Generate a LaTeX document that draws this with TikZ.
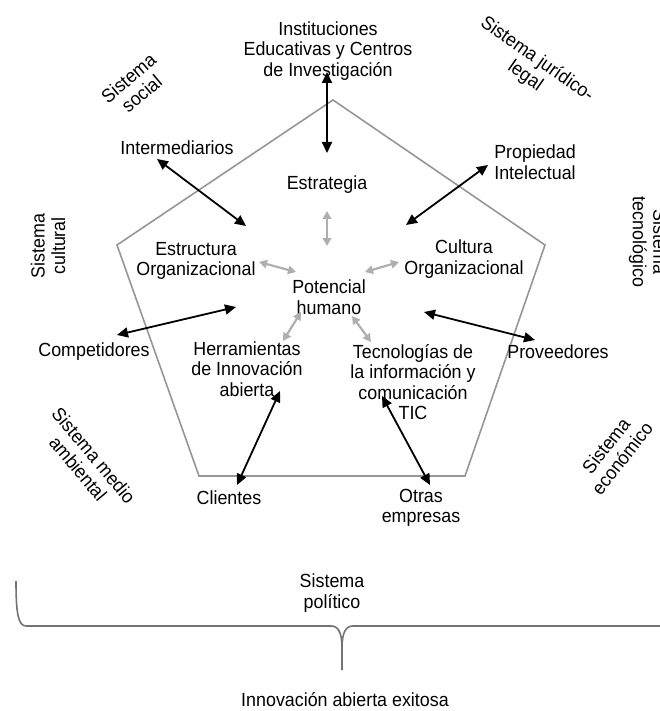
\documentclass[tikz,border=0pt]{standalone}
\usepackage{fontspec}
\setmainfont[FakeStretch=0.94]{Liberation Sans}
\usetikzlibrary{arrows.meta}
\definecolor{frame}{RGB}{150,150,150}
\definecolor{bracecol}{RGB}{115,115,115}
\definecolor{soft}{RGB}{175,175,175}
\begin{document}
\begin{tikzpicture}[x=1pt,y=-1pt,
  lbl/.style={align=center,font=\fontsize{19}{20.5}\selectfont,inner sep=0pt},
  bigarrow/.style={line width=1.8pt,black,
    {Triangle[length=11pt,width=10pt]}-{Triangle[length=11pt,width=10pt]}},
  softarrow/.style={line width=2.2pt,soft,
    {Triangle[length=8pt,width=8.5pt]}-{Triangle[length=8pt,width=8.5pt]}},
  edge/.style={line width=1.6pt,frame,line join=miter}]
\useasboundingbox (0,0) rectangle (659,711);

% pentagon of the organisation
\draw[edge] (333,100) -- (545,245) -- (465,476) -- (199,476) -- (117,245) -- cycle;

% inner elements
\node[lbl] (estr) at (327,185) {Estrategia};
\node[lbl] (estruc) at (196,261) {Estructura\\Organizacional};
\node[lbl] (cult) at (464,259) {Cultura\\Organizacional};
\node[lbl] (pot) at (329,297) {Potencial\\humano};
\node[lbl] (herr) at (247,369) {Herramientas\\de Innovación\\abierta};
\node[lbl] (tic) at (413,382) {Tecnologías de\\la información y\\comunicación\\TIC};

% external agents
\node[lbl] (inst) at (328,51) {Instituciones\\Educativas y Centros\\de Investigación};
\node[lbl] (inter) at (177,148) {Intermediarios};
\node[lbl] (prop) at (535,162) {Propiedad\\Intelectual};
\node[lbl] (comp) at (94,352) {Competidores};
\node[lbl] (prov) at (558,352) {Proveedores};
\node[lbl] (cli) at (229,498) {Clientes};
\node[lbl] (otras) at (421,508) {Otras\\empresas};

% surrounding systems
\node[lbl,rotate=40] (ssoc) at (135,86) {Sistema\\social};
\node[lbl,rotate=-35] (sjur) at (531,68) {Sistema jurídico-\\legal};
\node[lbl,rotate=90] (scul) at (48,246) {Sistema\\cultural};
\node[lbl,rotate=-90] (stec) at (648,242) {Sistema\\tecnológico};
\node[lbl,rotate=-50] (samb) at (86,462) {Sistema medio\\ambiental};
\node[lbl,rotate=52] (seco) at (614,452) {Sistema\\económico};
\node[lbl] (spol) at (332,593) {Sistema\\político};
\node[lbl] (exito) at (345,700) {Innovación abierta exitosa};

% arrow end points
\coordinate (instA) at (327,72);   \coordinate (instB) at (327,153);
\coordinate (interA) at (157,159); \coordinate (interB) at (246,226);
\coordinate (propA) at (488,165);  \coordinate (propB) at (406,225);
\coordinate (compA) at (117,335);  \coordinate (compB) at (236,307);
\coordinate (provA) at (424,312);  \coordinate (provB) at (535,340);
\coordinate (cliA) at (237,485);   \coordinate (cliB) at (280,391);
\coordinate (otrA) at (430,485);   \coordinate (otrB) at (382,396);

\coordinate (gEa) at (327,211);  \coordinate (gEb) at (327,246);
\coordinate (gSa) at (259,262);  \coordinate (gSb) at (296,272);
\coordinate (gCa) at (365,272);  \coordinate (gCb) at (399,262);
\coordinate (gHa) at (301,312);  \coordinate (gHb) at (283,341);
\coordinate (gTa) at (352,316);  \coordinate (gTb) at (371,342);

% links with the environment
\draw[bigarrow] (instA) -- (instB);
\draw[bigarrow] (interA) -- (interB);
\draw[bigarrow] (propA) -- (propB);
\draw[bigarrow] (compA) -- (compB);
\draw[bigarrow] (provA) -- (provB);
\draw[bigarrow] (cliA) -- (cliB);
\draw[bigarrow] (otrA) -- (otrB);

% links around the human potential
\draw[softarrow] (gEa) -- (gEb);
\draw[softarrow] (gSa) -- (gSb);
\draw[softarrow] (gCa) -- (gCb);
\draw[softarrow] (gHa) -- (gHb);
\draw[softarrow] (gTa) -- (gTb);

% brace of the political system
\draw[bracecol,line width=1.6pt]
  (16,581) .. controls (16,612) and (18,626) .. (26,626) -- (331,626)
  .. controls (338,626) and (342,632) .. (342,648) -- (342,670);
\draw[bracecol,line width=1.6pt]
  (662,626) -- (353,626) .. controls (346,626) and (342,632) .. (342,648);
\end{tikzpicture}
\end{document}
